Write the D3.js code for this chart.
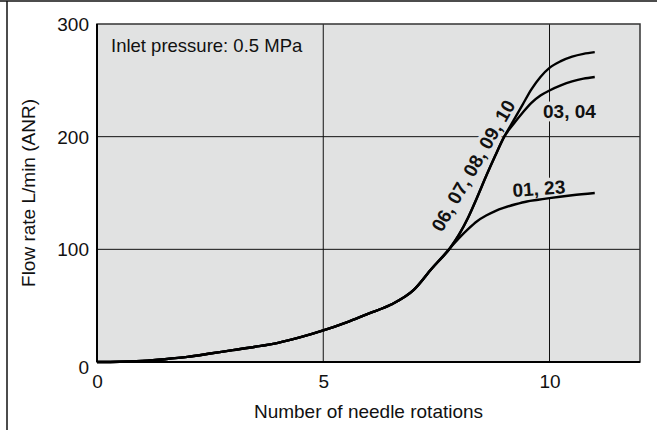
<!DOCTYPE html>
<html>
<head>
<meta charset="utf-8">
<script src="https://cdn.jsdelivr.net/npm/d3@7"></script>
<style>
  html, body { margin: 0; padding: 0; background: #fff; }
  svg { display: block; }
  text { font-family: "Liberation Sans", Arial, Helvetica, sans-serif; fill: #111; }
</style>
</head>
<body>
<svg id="chart" width="657" height="430"></svg>
<script>
// ---- data ----
const xTicks = [0, 5, 10];
const yTicks = [0, 100, 200, 300];
const xTickLabels = ["0", "5", "10"];
const yTickLabels = ["0", "100", "200", "300"];

const rot0610 = [0,0.5,1,1.5,2,2.5,3,3.5,4,4.5,5,5.5,6,6.5,7,7.4,7.8,8.0,8.2,8.4,8.6,8.8,9.0,9.2,9.4,9.6,9.8,10,10.25,10.5,10.75,11];
const flow0610 = [0,0.2,1,2.5,4.5,7.5,10.5,13.5,17,22,28,35,43,51,64,83,101,113,128,146,165,183,200,214,228,242,253,261,267,271,273.5,275];

const rot0304 = [0,0.5,1,1.5,2,2.5,3,3.5,4,4.5,5,5.5,6,6.5,7,7.4,7.8,8.0,8.2,8.4,8.6,8.8,9.0,9.2,9.4,9.6,9.8,10,10.25,10.5,10.75,11];
const flow0304 = [0,0.2,1,2.5,4.5,7.5,10.5,13.5,17,22,28,35,43,51,64,83,101,113,128,146,165,183,200,211,221,230,236.5,241,245.5,249,251.5,253];

const rot0123 = [0,0.5,1,1.5,2,2.5,3,3.5,4,4.5,5,5.5,6,6.5,7,7.4,7.8,8.0,8.2,8.4,8.6,8.8,9.0,9.25,9.5,9.75,10,10.5,11];
const flow0123 = [0,0.2,1,2.5,4.5,7.5,10.5,13.5,17,22,28,35,43,51,64,83,101,110,118,125,130,134,137,140,142.5,144,145.5,148,150];

const seriesNames = ["06, 07, 08, 09, 10", "03, 04", "01, 23"];
const xTitle = "Number of needle rotations";
const yTitle = "Flow rate L/min (ANR)";
const noteText = "Inlet pressure: 0.5 MPa";

// ---- layout ----
const W = 657, H = 430;
const L = 97, R = 640, T = 24, B = 362;
const bg = "#e1e2e2";

const svg = d3.select("#chart");
const x = d3.scaleLinear().domain([0, 12]).range([L, R]);
const y = d3.scaleLinear().domain([0, 300]).range([B, T]);

// outer frame (top and left)
svg.append("line").attr("x1", 0).attr("x2", W).attr("y1", 1).attr("y2", 1)
  .attr("stroke", "#111").attr("stroke-width", 1.5);
svg.append("line").attr("x1", 7).attr("x2", 7).attr("y1", 1).attr("y2", H)
  .attr("stroke", "#111").attr("stroke-width", 1.5);

// plot background
svg.append("rect").attr("x", L).attr("y", T).attr("width", R - L).attr("height", B - T)
  .attr("fill", bg);

// grid
const g = svg.append("g");
g.selectAll(".vg").data(xTicks.filter(d => d > 0)).join("line")
  .attr("x1", d => x(d)).attr("x2", d => x(d)).attr("y1", T).attr("y2", B)
  .attr("stroke", "#111").attr("stroke-width", 1);
g.selectAll(".hg").data(yTicks.filter(d => d > 0 && d < 300)).join("line")
  .attr("x1", L).attr("x2", R).attr("y1", d => y(d)).attr("y2", d => y(d))
  .attr("stroke", "#111").attr("stroke-width", 1);

// series labels with halo
function halo(sel) {
  sel.attr("stroke", bg).attr("stroke-width", 7).attr("paint-order", "stroke")
    .attr("stroke-linejoin", "round");
}
svg.append("text").text(seriesNames[0])
  .attr("transform", "translate(479,169) rotate(-60)")
  .attr("text-anchor", "middle").attr("font-size", 19).attr("font-weight", "bold")
  .call(halo);
svg.append("text").text(seriesNames[1])
  .attr("x", 543).attr("y", 118)
  .attr("font-size", 19).attr("font-weight", "bold")
  .call(halo);
svg.append("text").text(seriesNames[2])
  .attr("transform", "translate(513,197) rotate(-4)")
  .attr("font-size", 19).attr("font-weight", "bold")
  .call(halo);

// curves
const line = d3.line().x(d => x(d[0])).y(d => y(d[1])).curve(d3.curveMonotoneX);
const series = [
  d3.zip(rot0610, flow0610),
  d3.zip(rot0304, flow0304),
  d3.zip(rot0123, flow0123)
];
svg.selectAll(".curve").data(series).join("path")
  .attr("d", line).attr("fill", "none").attr("stroke", "#000")
  .attr("stroke-width", 2.4).attr("stroke-linejoin", "round");

// plot frame
svg.append("rect").attr("x", L).attr("y", T).attr("width", R - L).attr("height", B - T)
  .attr("fill", "none").attr("stroke", "#333").attr("stroke-width", 1.5);
svg.append("line").attr("x1", L).attr("x2", R).attr("y1", B).attr("y2", B)
  .attr("stroke", "#000").attr("stroke-width", 2);
svg.append("line").attr("x1", L).attr("x2", L).attr("y1", T).attr("y2", B)
  .attr("stroke", "#000").attr("stroke-width", 2);

// axes tick labels via d3 axes
const xAxis = d3.axisBottom(x).tickValues(xTicks).tickSize(0).tickPadding(0)
  .tickFormat((d, i) => xTickLabels[i]);
const xa = svg.append("g").attr("transform", `translate(0,${B})`).call(xAxis);
xa.select(".domain").remove();
xa.selectAll("text").attr("font-size", 19).attr("dy", null).attr("y", 26)
  .attr("font-family", "Liberation Sans, Arial, sans-serif").attr("fill", "#111");

const yAxis = d3.axisLeft(y).tickValues(yTicks).tickSize(0).tickPadding(0)
  .tickFormat((d, i) => yTickLabels[i]);
const ya = svg.append("g").attr("transform", `translate(${89},0)`).call(yAxis);
ya.select(".domain").remove();
ya.selectAll("text").attr("font-size", 19).attr("x", 0).attr("dy", "0.35em")
  .attr("font-family", "Liberation Sans, Arial, sans-serif").attr("fill", "#111");
ya.selectAll(".tick").filter(d => d === 0).select("text").attr("dy", "0.62em");

// titles
svg.append("text").text(xTitle).attr("x", (L + R) / 2).attr("y", 418)
  .attr("text-anchor", "middle").attr("font-size", 19);
svg.append("text").text(yTitle)
  .attr("transform", `translate(35,${(T + B) / 2}) rotate(-90)`)
  .attr("text-anchor", "middle").attr("font-size", 19);

// note
svg.append("text").text(noteText).attr("x", 111).attr("y", 52).attr("font-size", 18.5);
</script>
</body>
</html>
